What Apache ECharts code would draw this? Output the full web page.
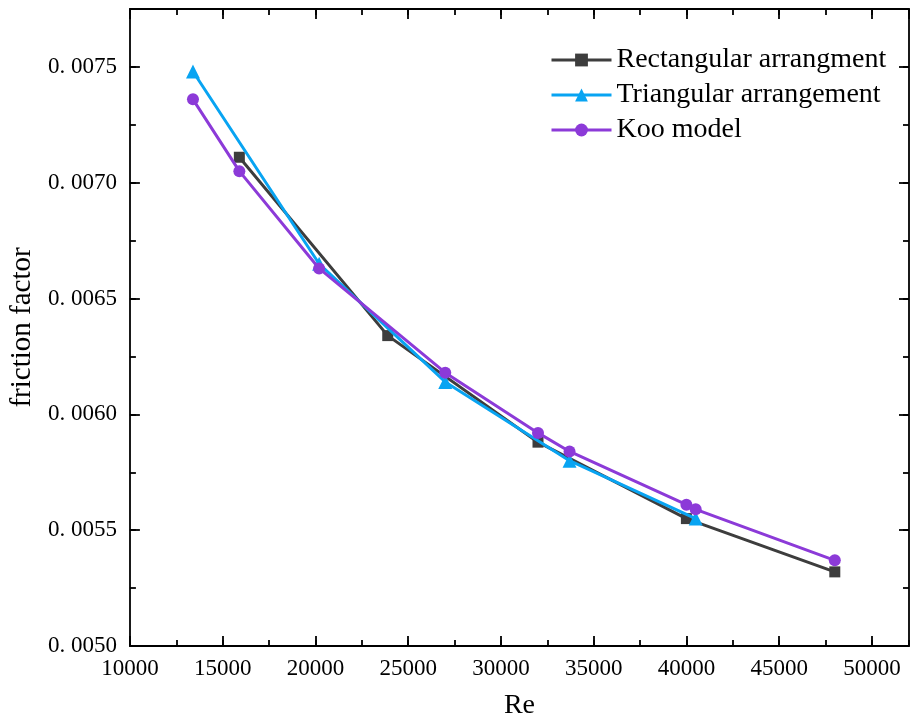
<!DOCTYPE html>
<html>
<head>
<meta charset="utf-8">
<script src="https://cdn.jsdelivr.net/npm/echarts@6/dist/echarts.min.js"></script>
<style>html,body{margin:0;padding:0;background:#fff}#c{width:911px;height:726px}</style>
</head>
<body>
<div id="c"></div>
<script>
const rectRe = [15900, 23900, 32000, 40000, 48000];
const rectF = [0.00711, 0.00634, 0.00588, 0.00555, 0.00532];
const triRe = [13400, 20200, 27000, 33700, 40500];
const triF = [0.00748, 0.00665, 0.00614, 0.00580, 0.00555];
const kooRe = [13400, 15900, 20200, 27000, 32000, 33700, 40000, 40500, 48000];
const kooF = [0.00736, 0.00705, 0.00663, 0.00618, 0.00592, 0.00584, 0.00561, 0.00559, 0.00537];
const seriesNames = ['Rectangular arrangment', 'Triangular arrangement', 'Koo model'];

const xMin = 10000, xMax = 52000, xMajor = 5000, xMinor = 2500;
const yMin = 0.0050, yMax = 0.00775, yMajor = 0.0005, yMinor = 0.00025;

const FONT = 'Liberation Serif';
const AX = '#000';
const lw = 1.8;

function pairs(xs, ys) { return xs.map((x, i) => [x, ys[i]]); }

function xAx(pos, interval, len, opts) {
  return Object.assign({
    type: 'value', position: pos, min: xMin, max: xMax, interval: interval,
    axisLine: { show: true, onZero: false, lineStyle: { color: AX, width: lw } },
    axisTick: { show: true, inside: true, length: len, lineStyle: { color: AX, width: lw } },
    axisLabel: { show: false }, splitLine: { show: false }
  }, opts || {});
}
function yAx(pos, interval, len, opts) {
  return Object.assign({
    type: 'value', position: pos, min: yMin, max: yMax, interval: interval,
    axisLine: { show: true, onZero: false, lineStyle: { color: AX, width: lw } },
    axisTick: { show: true, inside: true, length: len, lineStyle: { color: AX, width: lw } },
    axisLabel: { show: false }, splitLine: { show: false }
  }, opts || {});
}

const chart = echarts.init(document.getElementById('c'), null, { renderer: 'canvas' });
chart.setOption({
  backgroundColor: '#fff',
  animation: false,
  grid: { left: 129, right: 2, top: 9, bottom: 80, containLabel: false },
  legend: {
    orient: 'vertical', left: 545, top: 41, itemWidth: 60, itemHeight: 16, itemGap: 7,
    data: seriesNames,
    lineStyle: { width: 3 },
    textStyle: { fontFamily: FONT, fontSize: 28, color: '#000' }
  },
  xAxis: [
    xAx('bottom', xMajor, 10, {
      name: 'Re', nameLocation: 'middle', nameGap: 46,
      nameTextStyle: { fontFamily: FONT, fontSize: 28, color: '#000' },
      axisLabel: { show: true, margin: 11, showMaxLabel: false, fontFamily: FONT, fontSize: 23, color: '#000',
        formatter: v => String(v) }
    }),
    xAx('bottom', xMinor, 6, { axisLine: { show: false } }),
    xAx('top', xMajor, 10),
    xAx('top', xMinor, 6, { axisLine: { show: false } })
  ],
  yAxis: [
    yAx('left', yMajor, 10, {
      name: 'friction factor', nameLocation: 'middle', nameGap: 92,
      nameTextStyle: { fontFamily: FONT, fontSize: 29, color: '#000' },
      axisLabel: {
        show: true, margin: 13, showMaxLabel: false, fontFamily: FONT, fontSize: 23, color: '#000',
        formatter: v => v.toFixed(4).replace('.', '. ')
      }
    }),
    yAx('left', yMinor, 6, { axisLine: { show: false } }),
    yAx('right', yMajor, 10),
    yAx('right', yMinor, 6, { axisLine: { show: false } })
  ],
  series: [
    {
      name: seriesNames[0], type: 'line', xAxisIndex: 0, yAxisIndex: 0,
      data: pairs(rectRe, rectF), symbol: 'rect', symbolSize: 11,
      itemStyle: { color: '#3d3d3d' }, lineStyle: { color: '#3d3d3d', width: 3 }, z: 2
    },
    {
      name: seriesNames[1], type: 'line', xAxisIndex: 0, yAxisIndex: 0,
      data: pairs(triRe, triF), symbol: 'triangle', symbolSize: 14,
      itemStyle: { color: '#08a4f2' }, lineStyle: { color: '#08a4f2', width: 3 }, z: 3
    },
    {
      name: seriesNames[2], type: 'line', xAxisIndex: 0, yAxisIndex: 0,
      data: pairs(kooRe, kooF), symbol: 'circle', symbolSize: 12,
      itemStyle: { color: '#8c3ad8' }, lineStyle: { color: '#8c3ad8', width: 3 }, z: 4
    }
  ]
});
</script>
</body>
</html>
